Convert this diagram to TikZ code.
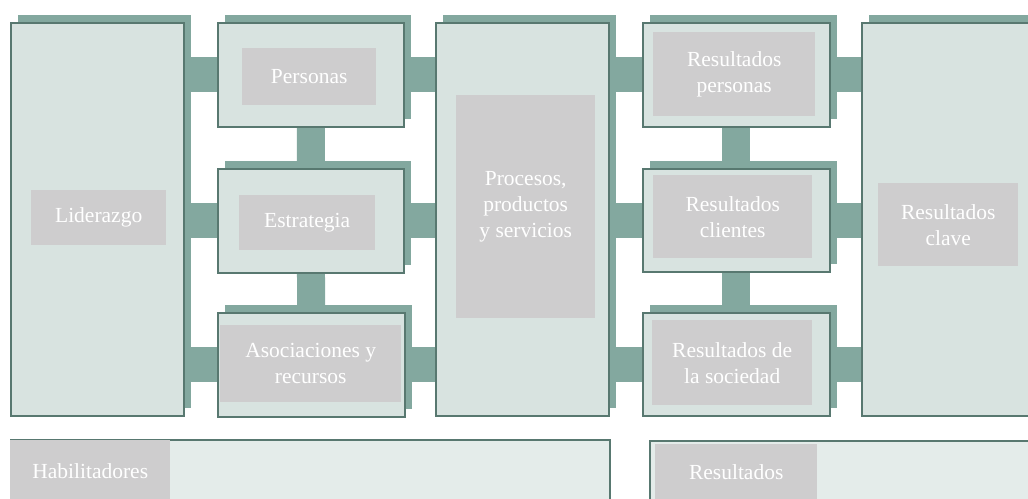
\documentclass[tikz,border=0pt]{standalone}
\usepackage{fontspec}
\setmainfont{Liberation Serif}
\usetikzlibrary{shadows}
\pgfdeclarelayer{background}
\pgfsetlayers{background,main}
\definecolor{boxc}{HTML}{D8E3E0}
\definecolor{edgec}{HTML}{587870}
\definecolor{barc}{HTML}{83A89F}
\definecolor{labc}{HTML}{CECDCE}
\definecolor{stripc}{HTML}{E4ECEA}
\begin{document}
\begin{tikzpicture}[x=1pt,y=-1pt,
  box/.style={rectangle,draw=edgec,line width=1.6pt,fill=boxc,anchor=north west,inner sep=0pt,
    general shadow={fill=barc,shadow xshift=7pt,shadow yshift=8pt}},
  tag/.style={rectangle,fill=labc,anchor=north west,inner sep=0pt,text=white,align=center,
    font=\fontsize{21.5}{26}\selectfont},
  strip/.style={rectangle,draw=edgec,line width=1.6pt,fill=stripc,anchor=north west,inner sep=0pt},
  hbar/.style={barc,line width=35pt},
  vbar/.style={barc,line width=28pt}]
\useasboundingbox (0,0) rectangle (1028,498);
\path node (lid) at (10,22) [box,minimum width=173,minimum height=393] {}
node (per) at (217,22) [box,minimum width=186,minimum height=104] {}
node (est) at (217,168) [box,minimum width=186,minimum height=104] {}
node (aso) at (217,312) [box,minimum width=187,minimum height=104] {}
node (pro) at (435,22) [box,minimum width=173,minimum height=393] {}
node (rper) at (642,22) [box,minimum width=187,minimum height=104] {}
node (rcli) at (642,168) [box,minimum width=187,minimum height=103] {}
node (rsoc) at (642,312) [box,minimum width=187,minimum height=103] {}
node (rcla) at (861,22) [box,minimum width=190,minimum height=393] {}
node (hab) at (10,439) [strip,minimum width=599,minimum height=70] {}
node (res) at (649,440) [strip,minimum width=400,minimum height=70] {};
\path node (lidl) at (31,190) [tag,minimum width=135,minimum height=55] {Liderazgo}
node (perl) at (242,48) [tag,minimum width=134,minimum height=57] {Personas}
node (estl) at (239,195) [tag,minimum width=136,minimum height=55] {Estrategia}
node (asol) at (220,325) [tag,minimum width=181,minimum height=77] {Asociaciones y\\recursos}
node (prol) at (456,95) [tag,minimum width=139,minimum height=223] {Procesos,\\productos\\y servicios}
node (rperl) at (653,32) [tag,minimum width=162,minimum height=84] {Resultados\\personas}
node (rclil) at (653,175) [tag,minimum width=159,minimum height=83] {Resultados\\clientes}
node (rsocl) at (652,320) [tag,minimum width=160,minimum height=85] {Resultados de\\la sociedad}
node (rclal) at (878,183) [tag,minimum width=140,minimum height=83] {Resultados\\clave}
node (habl) at (10,440) [tag,minimum width=160,minimum height=62] {Habilitadores}
node (resl) at (655,444) [tag,minimum width=162,minimum height=56] {Resultados};
\begin{pgfonlayer}{background}
\draw[hbar] (lid.east |- per) -- (per) -- (pro.west |- per);
\draw[hbar] (lid.east |- est) -- (est) -- (pro.west |- est);
\draw[hbar] (lid.east |- aso) -- (aso) -- (pro.west |- aso);
\draw[hbar] (pro.east |- rper) -- (rper) -- (rcla.west |- rper);
\draw[hbar] (pro.east |- rcli) -- (rcli) -- (rcla.west |- rcli);
\draw[hbar] (pro.east |- rsoc) -- (rsoc) -- (rcla.west |- rsoc);
\draw[vbar] (per) -- (est) -- (aso);
\draw[vbar] (rper) -- (rcli) -- (rsoc);
\end{pgfonlayer}
\end{tikzpicture}
\end{document}
